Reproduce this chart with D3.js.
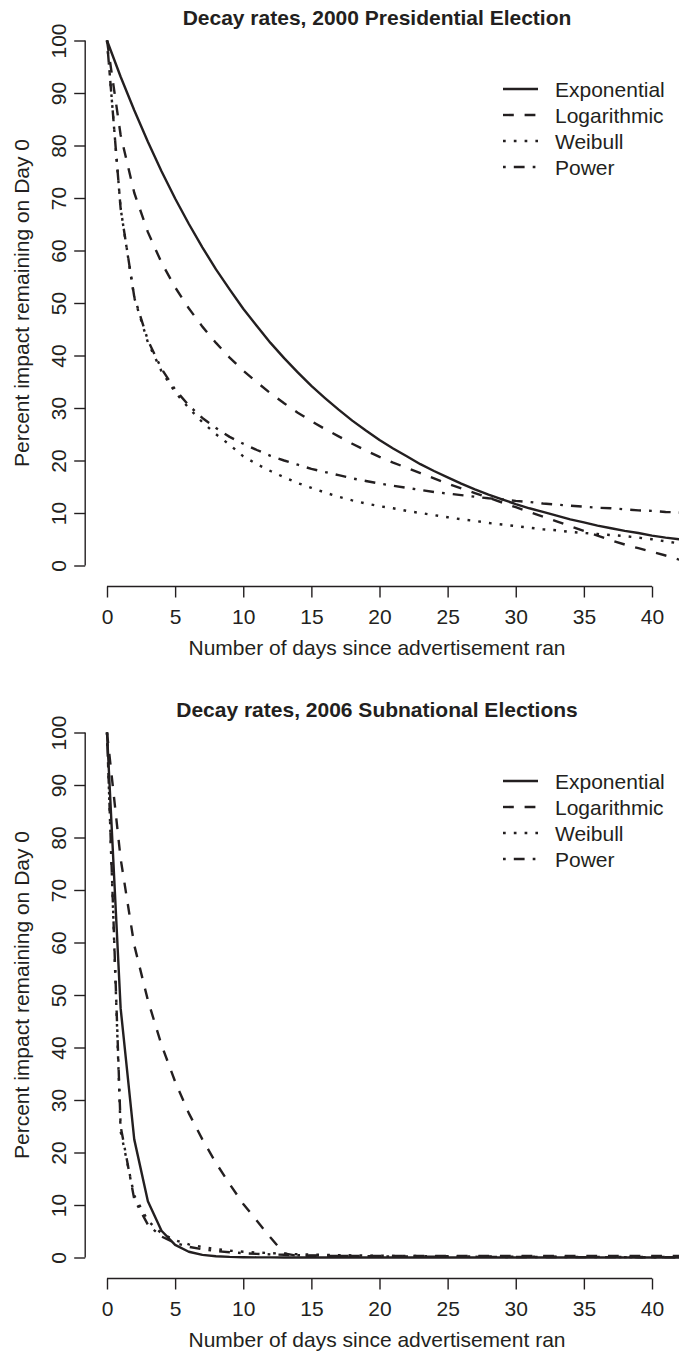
<!DOCTYPE html>
<html>
<head>
<meta charset="utf-8">
<script src="https://cdn.jsdelivr.net/npm/d3@7"></script>
<style>
  html, body { margin: 0; padding: 0; background: #fff; }
  svg { display: block; }
  text { font-family: "Liberation Sans", Arial, Helvetica, sans-serif; fill: #231f20; }
</style>
</head>
<body>
<svg id="chart" width="679" height="1354"></svg>
<script>
// ---------- data ----------
const days = [0,1,2,3,4,5,6,7,8,9,10,11,12,13,14,15,16,17,18,19,20,21,22,23,24,25,26,27,28,29,30,31,32,33,34,35,36,37,38,39,40,41,42];

const seriesNames = ["Exponential", "Logarithmic", "Weibull", "Power"];
const panelTitles = ["Decay rates, 2000 Presidential Election", "Decay rates, 2006 Subnational Elections"];
const xTicks = [0,5,10,15,20,25,30,35,40];
const yTicks = [0,10,20,30,40,50,60,70,80,90,100];
const xLabel = "Number of days since advertisement ran";
const yLabel = "Percent impact remaining on Day 0";

// 2000 Presidential Election
const pres_exponential = [100,93.1,86.7,80.7,75.1,69.9,65.1,60.6,56.4,52.6,48.9,45.6,42.4,39.5,36.8,34.2,31.9,29.7,27.6,25.7,23.9,22.3,20.8,19.3,18.0,16.8,15.6,14.5,13.5,12.6,11.7,10.9,10.2,9.5,8.8,8.2,7.6,7.1,6.6,6.2,5.7,5.3,5.0];
const pres_logarithmic = [100,82,71,63.5,57.7,53,49,45.5,42.4,39.6,37.1,34.9,32.8,30.9,29.1,27.5,26.0,24.6,23.2,21.9,20.7,19.6,18.6,17.6,16.6,15.6,14.7,13.8,12.9,12.0,11.1,10.2,9.3,8.4,7.5,6.6,5.7,4.8,4.0,3.3,2.6,1.9,1.1];
const pres_weibull = [100,68,51,42.5,37,33,30,27.3,25,23,20.8,19.3,18.0,16.8,15.7,14.8,13.9,13.1,12.4,11.8,11.3,10.9,10.4,10.0,9.6,9.2,8.8,8.5,8.1,7.8,7.5,7.2,6.9,6.7,6.4,6.2,6.0,5.8,5.6,5.3,5.0,4.6,4.2];
const pres_power = [100,68,51.2,42.9,37.5,33.5,30.5,28.1,26.2,24.5,23.2,22.0,20.9,20.0,19.2,18.4,17.8,17.2,16.6,16.1,15.6,15.2,14.8,14.4,14.0,13.7,13.4,13.1,12.8,12.6,12.3,12.1,11.8,11.6,11.4,11.2,11.0,10.9,10.7,10.5,10.4,10.2,10.1];

// 2006 Subnational Elections
const sub_exponential = [100,47.5,22.5,10.7,5.1,2.4,1.1,0.5,0.25,0.12,0.06,0.03,0.02,0.01,0,0,0,0,0,0,0,0,0,0,0,0,0,0,0,0,0,0,0,0,0,0,0,0,0,0,0,0,0];
const sub_logarithmic = [100,76,59.5,49,40.5,33.5,27.5,22.5,18,14,10.2,7,3.8,0.8,0.3,0.3,0.3,0.3,0.3,0.3,0.3,0.3,0.3,0.3,0.3,0.3,0.3,0.3,0.3,0.3,0.3,0.3,0.3,0.3,0.3,0.3,0.3,0.3,0.3,0.3,0.3,0.3,0.3];
const sub_weibull = [100,24,11.8,7,4.6,3.3,2.5,2.0,1.6,1.3,1.1,0.95,0.82,0.72,0.63,0.56,0.5,0.45,0.41,0.37,0.34,0.31,0.29,0.27,0.25,0.23,0.21,0.2,0.19,0.18,0.17,0.16,0.15,0.14,0.13,0.12,0.12,0.11,0.1,0.1,0.09,0.09,0.08];
const sub_power = [100,25,11.1,6.25,4,2.78,2.04,1.56,1.23,1.0,0.83,0.69,0.59,0.51,0.44,0.39,0.35,0.31,0.28,0.25,0.23,0.21,0.19,0.18,0.16,0.15,0.14,0.13,0.12,0.11,0.10,0.10,0.09,0.09,0.08,0.08,0.07,0.07,0.07,0.06,0.06,0.06,0.05];

const panels = [
  { title: panelTitles[0], series: [pres_exponential, pres_logarithmic, pres_weibull, pres_power] },
  { title: panelTitles[1], series: [sub_exponential, sub_logarithmic, sub_weibull, sub_power] }
];

// ---------- styling ----------
const ink = "#231f20";
const u = 2.7; // R line-type unit
const dashes = [null, `${4*u},${4*u}`, `${1*u},${3*u}`, `${1*u},${3*u},${4*u},${3*u}`];
const lineW = 2.4;
const fontSize = 21;

const svg = d3.select("#chart");

panels.forEach((p, pi) => {
  const oy = pi * 692;
  const g = svg.append("g").attr("transform", `translate(0,${oy})`);

  const x = d3.scaleLinear().domain([0, 40]).range([107, 652]);
  const y = d3.scaleLinear().domain([0, 100]).range([565.5, 40.5]);
  const xAxisY = y(-4);
  const yAxisX = x(-1.6);

  // title
  g.append("text")
    .attr("x", 377).attr("y", 25)
    .attr("text-anchor", "middle")
    .style("font-size", fontSize + "px").style("font-weight", "bold")
    .text(p.title);

  // x axis
  const xa = g.append("g").attr("transform", `translate(0,${xAxisY})`)
    .call(d3.axisBottom(x).tickValues(xTicks).tickSize(11).tickPadding(10).tickSizeOuter(0));
  xa.select(".domain").attr("stroke", ink).attr("stroke-width", 1.4)
    .attr("d", `M${x(xTicks[0])},0H${x(xTicks[xTicks.length-1])}`);
  xa.selectAll(".tick line").attr("stroke", ink).attr("stroke-width", 1.4);
  xa.selectAll(".tick text").attr("fill", ink).attr("dy", null).attr("y", 37)
    .style("font-size", fontSize + "px").style("font-family", '"Liberation Sans", Arial, sans-serif');

  // y axis
  const ya = g.append("g").attr("transform", `translate(${yAxisX},0)`)
    .call(d3.axisLeft(y).tickValues(yTicks).tickSize(11).tickSizeOuter(0));
  ya.select(".domain").attr("stroke", ink).attr("stroke-width", 1.4)
    .attr("d", `M0,${y(yTicks[0])}V${y(yTicks[yTicks.length-1])}`);
  ya.selectAll(".tick line").attr("stroke", ink).attr("stroke-width", 1.4);
  ya.selectAll(".tick text")
    .attr("x", null).attr("dy", null)
    .attr("text-anchor", "middle")
    .attr("transform", `translate(-19,0) rotate(-90)`)
    .attr("fill", ink)
    .style("font-size", fontSize + "px").style("font-family", '"Liberation Sans", Arial, sans-serif');

  // axis titles
  g.append("text")
    .attr("x", 377).attr("y", 655)
    .attr("text-anchor", "middle")
    .style("font-size", fontSize + "px")
    .text(xLabel);
  g.append("text")
    .attr("transform", `translate(29,303) rotate(-90)`)
    .attr("text-anchor", "middle")
    .style("font-size", fontSize + "px")
    .text(yLabel);

  // curves
  const line = d3.line().x((d, i) => x(days[i])).y(d => y(d));
  p.series.forEach((vals, si) => {
    const path = g.append("path")
      .datum(vals)
      .attr("d", line)
      .attr("fill", "none")
      .attr("stroke", ink)
      .attr("stroke-width", lineW)
      .attr("stroke-linejoin", "round");
    if (dashes[si]) path.attr("stroke-dasharray", dashes[si]);
  });

  // legend
  const leg = g.append("g");
  seriesNames.forEach((name, si) => {
    const ry = 89 + si * 26;
    const l = leg.append("line")
      .attr("x1", 503).attr("x2", 538).attr("y1", ry).attr("y2", ry)
      .attr("stroke", ink).attr("stroke-width", lineW);
    if (dashes[si]) l.attr("stroke-dasharray", dashes[si]);
    leg.append("text")
      .attr("x", 555).attr("y", ry).attr("dy", "0.36em")
      .style("font-size", fontSize + "px")
      .text(name);
  });
});
</script>
</body>
</html>
